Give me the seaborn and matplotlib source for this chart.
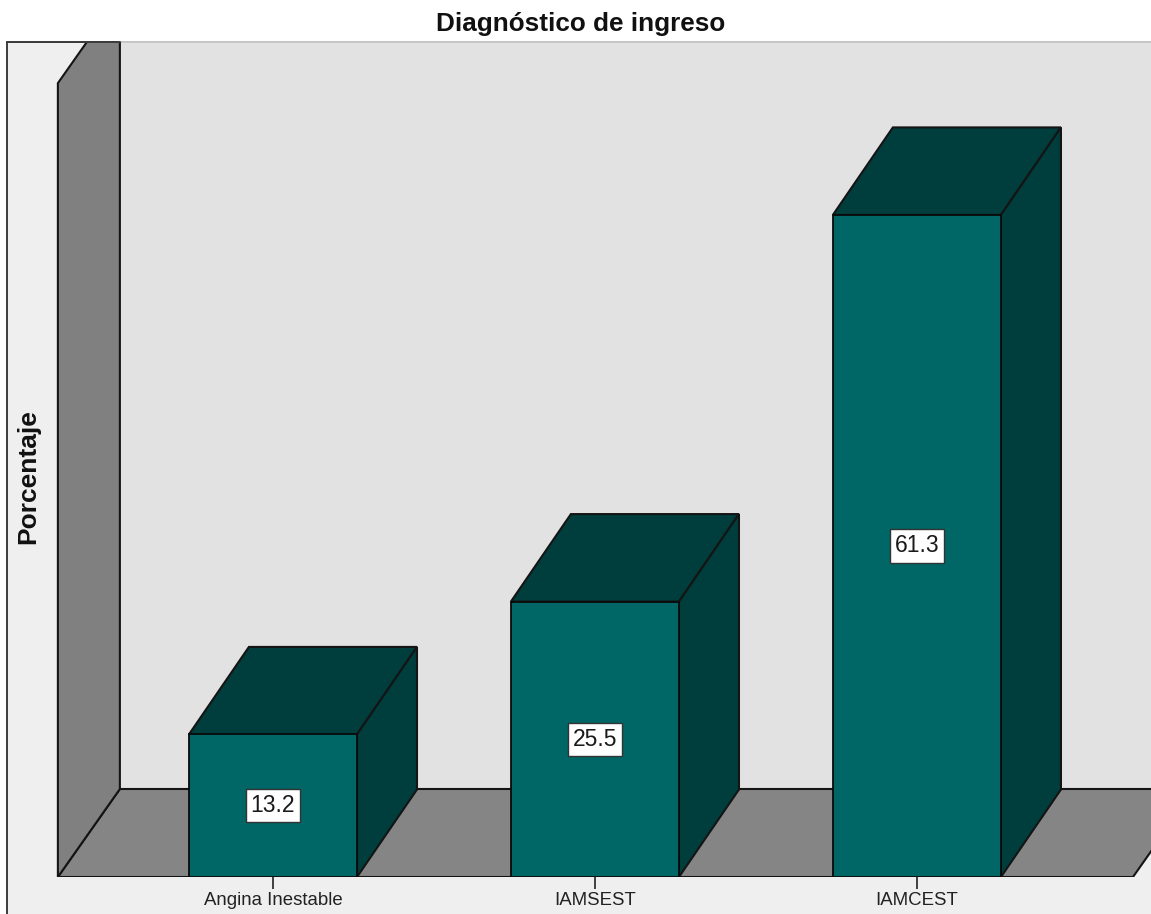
import numpy as np
import seaborn as sns
import matplotlib.pyplot as plt
from matplotlib.patches import Polygon, Rectangle

categories = ['Angina Inestable', 'IAMSEST', 'IAMCEST']
percentages = [13.2, 25.5, 61.3]

teal = '#006666'
teal_dark = '#003d3d'
wall_grey = '#808080'
floor_grey = '#858585'
back_grey = '#e2e2e2'
panel_grey = '#efefef'

W, H = 1151, 914

sns.set_theme(style='white')
plt.rcParams['font.family'] = ['Liberation Sans', 'DejaVu Sans']

fig = plt.figure(figsize=(W / 100, H / 100), dpi=100, facecolor='white')

# grey panel behind everything, open on the right and at the bottom
fig.add_artist(Rectangle((7 / W, -0.01), 1.1, 1 - 42 / H + 0.01, transform=fig.transFigure,
                         facecolor=panel_grey, edgecolor='#3c3c3c', linewidth=1.4, zorder=-1))

# axes runs from the panel edge to the image edge, baseline at the bottom
ax = fig.add_axes([7 / W, 1 - 877 / H, (W - 7) / W, (877 - 42) / H])
ax.patch.set_alpha(0)

sns.barplot(x=categories, y=percentages, width=0.522, color=teal, saturation=1,
            edgecolor='#0a0a0a', linewidth=1.3, ax=ax, zorder=5)

ax.set_xlim(-0.826, 2.727)
ax.set_ylim(0, 77.31)

# fake 3D depth, in data units
dx = 62 / 322
dy = 88 / 10.8
bar_dx = 60 / 322
bar_dy = 87.5 / 10.8
left = -0.668
right = 2.671
top = ax.get_ylim()[1]
wall_top = 73.5
line = dict(edgecolor='#141414', linewidth=1.5)

bars = list(ax.containers[0])

ax.add_patch(Rectangle((left + dx, dy), 3.6, top - dy, facecolor=back_grey,
                       edgecolor='#c8c8c8', linewidth=1.4, clip_on=False, zorder=1))
ax.add_patch(Polygon([(left, 0), (right, 0), (right + dx, dy), (left + dx, dy)],
                     facecolor=floor_grey, zorder=2, **line))
ax.add_patch(Polygon([(left, 0), (left, wall_top), (left + dx, wall_top + dy),
                      (left + dx, dy)], facecolor=wall_grey, zorder=2, **line))
ax.plot([ax.get_xlim()[0], left + dx], [top, top], color='#3c3c3c', lw=1.4, clip_on=False, zorder=3)

# top and side face for each bar
for bar in bars:
    x0 = bar.get_x()
    x1 = x0 + bar.get_width()
    h = bar.get_height()
    ax.add_patch(Polygon([(x0, h), (x1, h), (x1 + bar_dx, h + bar_dy), (x0 + bar_dx, h + bar_dy)],
                         facecolor=teal_dark, zorder=4, **line))
    ax.add_patch(Polygon([(x1, 0), (x1, h), (x1 + bar_dx, h + bar_dy), (x1 + bar_dx, bar_dy)],
                         facecolor=teal_dark, zorder=4, **line))

labels = ax.bar_label(ax.containers[0], fmt='%.1f', label_type='center', fontsize=16.5,
                      color='#1a1a1a', zorder=7,
                      bbox=dict(boxstyle='square,pad=0.22', facecolor='white',
                                edgecolor='#333333', linewidth=1))

for s in ax.spines.values():
    s.set_visible(False)
ax.set_yticks([])
ax.tick_params(axis='x', length=8.6, width=1.2, color='#222222', bottom=True, pad=2.5,
               labelsize=13.4, labelcolor='#222222')
ax.set_xlabel('')
ax.set_ylabel('')

fig.text(581 / W, 1 - 24 / H, 'Diagnóstico de ingreso', ha='center', va='center',
         fontsize=18.8, fontweight='bold', color='#111111')
fig.text(28 / W, 1 - 477 / H, 'Porcentaje', ha='center', va='center', rotation=90,
         fontsize=19, fontweight='bold', color='#111111')

fig.savefig('out.png', dpi=100)
